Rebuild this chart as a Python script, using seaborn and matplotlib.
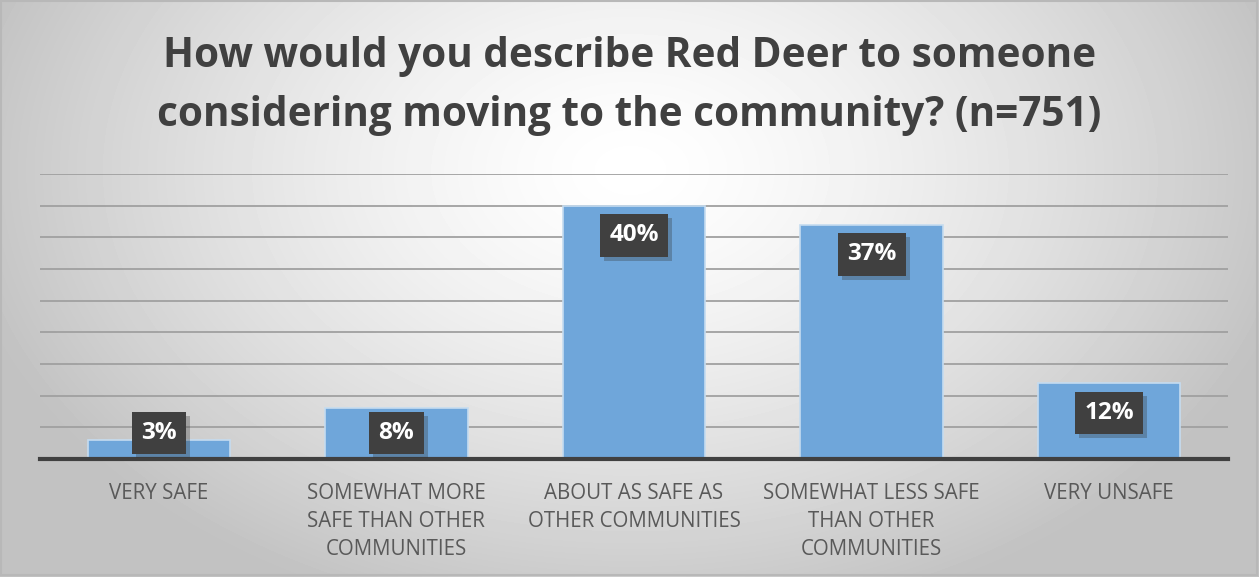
import numpy as np
import pandas as pd
import matplotlib
matplotlib.use("Agg")
import matplotlib.pyplot as plt
import matplotlib.patheffects as pe
import seaborn as sns

categories = ["VERY SAFE",
              "SOMEWHAT MORE\nSAFE THAN OTHER\nCOMMUNITIES",
              "ABOUT AS SAFE AS\nOTHER COMMUNITIES",
              "SOMEWHAT LESS SAFE\nTHAN OTHER\nCOMMUNITIES",
              "VERY UNSAFE"]
values = [3, 8, 40, 37, 12]
labels = ["3%", "8%", "40%", "37%", "12%"]
title = "How would you describe Red Deer to someone\nconsidering moving to the community? (n=751)"

sns.set_theme(style="white")
plt.rcParams['font.family'] = ['Open Sans', 'DejaVu Sans']

W, H = 1259, 577
fig = plt.figure(figsize=(W / 100, H / 100), dpi=100)

# radial gradient background
bg = fig.add_axes([0, 0, 1, 1], zorder=0)
yy, xx = np.mgrid[0:H, 0:W]
d = np.sqrt(((xx - 630) / 760.0) ** 2 + ((yy - 170) / 520.0) ** 2)
g = np.clip(1.0 - 0.28 * d ** 1.4, 0.76, 1.0)
bg.imshow(g, cmap="gray", vmin=0, vmax=1, aspect="auto", extent=[0, W, H, 0])
bg.set_xlim(0, W); bg.set_ylim(H, 0)
bg.axis("off")
bg.add_patch(plt.Rectangle((1, 1), W - 3, H - 3, fill=False, ec="#b8b8b8", lw=1.5))

left, right = 40 / W, 1228 / W
bottom, top = 1 - 459 / H, 1 - 174 / H
ax = fig.add_axes([left, bottom, right - left, top - bottom], zorder=1)
ax.patch.set_alpha(0)

df = pd.DataFrame({"cat": categories, "val": values})
sns.barplot(data=df, x="cat", y="val", color="#6fa6da", width=0.6,
            edgecolor="#c5dcf0", linewidth=1.2, saturation=1, ax=ax, zorder=3)

ax.set_ylim(0, 45)
ax.set_xlim(-0.5, 4.5)
ax.set_yticks(np.arange(5, 46, 5))
ax.yaxis.grid(True, color="#a0a0a0", lw=1.3, zorder=0)
ax.set_axisbelow(True)
ax.tick_params(axis="y", left=False, labelleft=False)
ax.tick_params(axis="x", bottom=False, pad=11)
for s in ["top", "right", "left"]:
    ax.spines[s].set_visible(False)
ax.spines["bottom"].set_color("#404040")
ax.spines["bottom"].set_linewidth(3)
ax.spines["bottom"].set_zorder(5)
ax.set_xlabel(""); ax.set_ylabel("")
for t in ax.get_xticklabels():
    t.set_fontsize(14.8)
    t.set_color("#595959")
    t.set_linespacing(1.45)
    t.set_verticalalignment("top")

for i, (v, lab) in enumerate(zip(values, labels)):
    y = max(v - 4.7, 4.1)
    t = ax.text(i, y, lab, ha="center", va="center", color="white",
                fontsize=17.5, fontweight="bold", zorder=6,
                bbox=dict(boxstyle="square,pad=0.38", fc="#404040", ec="none"))
    t.get_bbox_patch().set_path_effects(
        [pe.withSimplePatchShadow(offset=(3, -3), shadow_rgbFace="#333333", alpha=0.3)])

fig.text(0.5, 1 - 86 / H, title, ha="center", va="center", fontsize=29.2,
         fontweight="bold", color="#404040", linespacing=1.55)

fig.savefig("out.png", dpi=100)
